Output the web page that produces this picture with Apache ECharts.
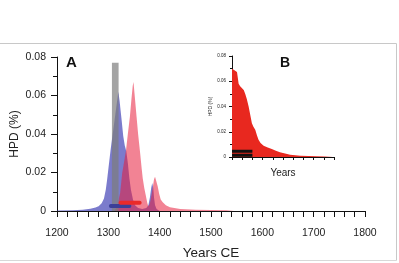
<!DOCTYPE html>
<html><head><meta charset="utf-8">
<script src="https://cdn.jsdelivr.net/npm/echarts@6/dist/echarts.min.js"></script>
<style>html,body{margin:0;padding:0;background:#fff}#c{width:399px;height:263px}</style>
</head><body><div id="c"></div>
<script>
// ---- Data ----
const blueYears  = [1200,1230,1250,1265,1275,1281,1287,1291.5,1295,1297.5,1301,1304.5,1308,1311,1314,1317,1319.5,1322,1324,1326,1329,1332,1335,1338,1341,1344,1348,1352,1358,1366,1374,1378,1381,1383.5,1385.5,1387.5,1389,1391,1394,1400];
const blueValues = [0.0002,0.0004,0.0007,0.0012,0.0018,0.0025,0.004,0.0065,0.011,0.016,0.024,0.032,0.039,0.045,0.051,0.057,0.062,0.057,0.052,0.047,0.039,0.034,0.031,0.025,0.017,0.011,0.006,0.003,0.0015,0.001,0.0015,0.003,0.007,0.012,0.0145,0.012,0.007,0.003,0.001,0];
const redYears   = [1312,1318,1321,1323,1327,1331,1334.5,1338,1342,1345,1347.5,1349,1351,1355,1358,1362,1365,1367,1370,1373,1376,1378,1381,1384,1387,1389,1391,1393,1396,1399,1402,1406,1412,1420,1440,1470,1500,1530,1545];
const redValues  = [0,0.003,0.007,0.0093,0.0197,0.026,0.0317,0.040,0.049,0.058,0.065,0.067,0.061,0.049,0.040,0.030,0.022,0.017,0.012,0.008,0.004,0.0025,0.004,0.008,0.013,0.0165,0.0178,0.017,0.013,0.009,0.006,0.0045,0.003,0.002,0.001,0.0007,0.0005,0.0004,0];
const grayBar    = {start:1307, end:1320, top:0.077};
const blueHPD    = {start:1305, end:1341, level:0.0026};
const redHPD     = {start:1324, end:1361, level:0.0043};
const xTicksMain = {min:1200, max:1800, step:100};
const yTicks     = {min:0, max:0.08, step:0.02};
// inset B
const insetX     = [0,0.7,2,3.3,4.9,5.5,6.5,8,9.8,11.5,13,14.5,16.3,17.9,19.5,21,22.8,24.5,26,28,31,35,39,43,47,52,57,62,67,75,83,91,99,100];
const insetY     = [0.070,0.0713,0.069,0.069,0.0674,0.066,0.058,0.056,0.0556,0.053,0.050,0.046,0.040,0.0386,0.0268,0.024,0.0215,0.017,0.0136,0.011,0.0089,0.0075,0.0063,0.005,0.0037,0.0027,0.0018,0.0014,0.001,0.0007,0.0005,0.0004,0.0003,0];
const insetBars  = [{start:0,end:20,level:0.0045},{start:0,end:20,level:0.0013}];

const zip = (a,b)=>a.map((v,i)=>[v,b[i]]);
const FONT = 'Liberation Sans';
const yFmt = v => v===0 ? '0' : v.toFixed(2);
const xFmt = v => String(v);

const chart = echarts.init(document.getElementById('c'), null, {renderer:'canvas'});
const axisCommon = {
  axisLine:{show:true,lineStyle:{color:'#111',width:1}},
  splitLine:{show:false},
  nameMoveOverlap:false
};
chart.setOption({
  animation:false,
  textStyle:{fontFamily:FONT},
  grid:[
    {left:57, top:57, width:308, height:154, outerBoundsMode:'none', containLabel:false},
    {left:232, top:56, width:102, height:101, outerBoundsMode:'none', containLabel:false}
  ],
  xAxis:[
    Object.assign({}, axisCommon, {
      gridIndex:0, type:'value', min:xTicksMain.min, max:xTicksMain.max, interval:xTicksMain.step,
      offset:4,
      axisTick:{show:true,length:6,lineStyle:{color:'#111'}},
      minorTick:{show:true,splitNumber:5,length:6,lineStyle:{color:'#111'}},
      minorSplitLine:{show:false},
      axisLabel:{fontSize:10.5,color:'#222',margin:13,formatter:xFmt,fontFamily:FONT},
      name:'Years CE', nameLocation:'middle', nameGap:31,
      nameTextStyle:{fontSize:13.5,color:'#222',fontFamily:FONT}
    }),
    Object.assign({}, axisCommon, {
      gridIndex:1, type:'value', min:0, max:100, interval:10,
      offset:1,
      axisTick:{show:true,length:3,lineStyle:{color:'#111'}},
      axisLabel:{show:false},
      name:'Years', nameLocation:'middle', nameGap:10,
      nameTextStyle:{fontSize:10,color:'#222',fontFamily:FONT}
    })
  ],
  yAxis:[
    Object.assign({}, axisCommon, {
      gridIndex:0, type:'value', min:yTicks.min, max:yTicks.max, interval:yTicks.step,
      axisTick:{show:true,length:6,lineStyle:{color:'#111'}},
      minorTick:{show:true,splitNumber:2,length:4,lineStyle:{color:'#111'}},
      minorSplitLine:{show:false},
      axisLabel:{fontSize:10.5,color:'#222',margin:11,formatter:yFmt,fontFamily:FONT},
      name:'HPD (%)', nameLocation:'middle', nameGap:36, nameRotate:90,
      nameTextStyle:{fontSize:12,color:'#222',fontFamily:FONT}
    }),
    Object.assign({}, axisCommon, {
      gridIndex:1, type:'value', min:yTicks.min, max:yTicks.max, interval:yTicks.step,
      axisTick:{show:true,length:3,lineStyle:{color:'#111'}},
      minorTick:{show:true,splitNumber:2,length:2,lineStyle:{color:'#111'}},
      minorSplitLine:{show:false},
      axisLabel:{fontSize:4.5,color:'#222',margin:6,formatter:yFmt,fontFamily:FONT},
      name:'HPD (%)', nameLocation:'middle', nameGap:19, nameRotate:90,
      nameTextStyle:{fontSize:5,color:'#222',fontFamily:FONT}
    })
  ],
  series:[
    {type:'line', xAxisIndex:0, yAxisIndex:0, z:2, data:zip(blueYears,blueValues), symbol:'none', silent:true,
     lineStyle:{width:0}, areaStyle:{color:'rgba(60,60,180,0.68)', opacity:1}},
    {type:'line', xAxisIndex:0, yAxisIndex:0, z:3, data:zip(redYears,redValues), symbol:'none', silent:true,
     lineStyle:{width:0}, areaStyle:{color:'rgba(232,30,60,0.55)', opacity:1}},
    {type:'line', xAxisIndex:0, yAxisIndex:0, z:4, data:[[grayBar.start,grayBar.top],[grayBar.end,grayBar.top]], symbol:'none', silent:true,
     lineStyle:{width:0}, areaStyle:{color:'rgba(125,125,125,0.7)', opacity:1}},
    {type:'line', xAxisIndex:0, yAxisIndex:0, z:5, data:[[blueHPD.start,blueHPD.level],[blueHPD.end,blueHPD.level]], symbol:'none', silent:true,
     lineStyle:{width:4, color:'#3b3f98', cap:'round'}},
    {type:'line', xAxisIndex:0, yAxisIndex:0, z:5, data:[[redHPD.start,redHPD.level],[redHPD.end,redHPD.level]], symbol:'none', silent:true,
     lineStyle:{width:4, color:'#ea2a2a', cap:'round'}},
    {type:'line', xAxisIndex:1, yAxisIndex:1, z:2, data:zip(insetX,insetY), symbol:'none', silent:true,
     lineStyle:{width:0}, areaStyle:{color:'#e8281f', opacity:1}},
  ].concat(insetBars.map(b=>({
     type:'line', xAxisIndex:1, yAxisIndex:1, z:5, data:[[b.start,b.level],[b.end,b.level]], symbol:'none', silent:true,
     lineStyle:{width:3, color:'#111'}}))),
  graphic:[
    {type:'text', left:66, top:55, style:{text:'A', font:'bold 15px "Liberation Sans"', fill:'#111'}},
    {type:'text', left:280, top:56, style:{text:'B', font:'bold 14px "Liberation Sans"', fill:'#111'}},
    {type:'line', shape:{x1:0,y1:43.5,x2:396.5,y2:43.5}, style:{stroke:'#c8c8c8',lineWidth:1}},
    {type:'line', shape:{x1:396.5,y1:43.5,x2:396.5,y2:260.5}, style:{stroke:'#c8c8c8',lineWidth:1}},
    {type:'line', shape:{x1:0,y1:260.5,x2:396.5,y2:260.5}, style:{stroke:'#d8d8d8',lineWidth:1}}
  ]
});
</script></body></html>
